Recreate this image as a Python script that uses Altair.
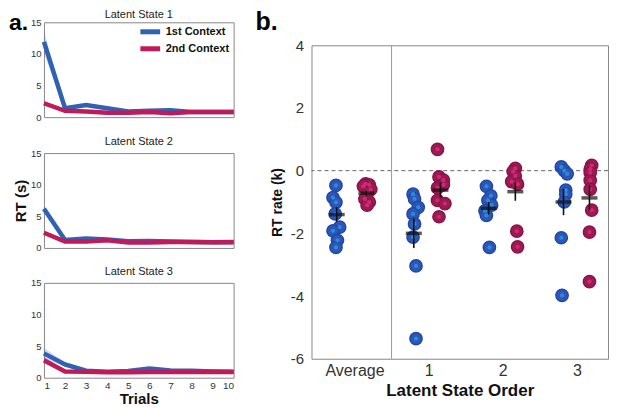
import altair as alt
import pandas as pd

FONT = "Liberation Sans"
BLUE = "#3061B3"
RED = "#BE1B5B"
PW, PH = 190, 95  # panel a plot size

# ---------------- panel a data ----------------
trials = list(range(1, 11))
contexts = ["1st Context", "2nd Context"]
state_titles = ["Latent State 1", "Latent State 2", "Latent State 3"]

ls1_first = [11.9, 1.4, 1.9, 1.4, 0.9, 1.0, 1.1, 0.8, 0.8, 0.8]
ls1_first_err = [1.8, 0.3, 0.25, 0.2, 0.15, 0.15, 0.2, 0.15, 0.1, 0.1]
ls1_second = [2.2, 1.0, 0.9, 0.7, 0.7, 0.8, 0.6, 0.8, 0.8, 0.8]
ls1_second_err = [0.4, 0.15, 0.1, 0.1, 0.1, 0.1, 0.1, 0.1, 0.1, 0.1]

ls2_first = [6.2, 1.25, 1.5, 1.35, 1.05, 1.1, 1.0, 0.95, 0.9, 0.95]
ls2_first_err = [0.5, 0.2, 0.2, 0.15, 0.1, 0.15, 0.1, 0.1, 0.1, 0.1]
ls2_second = [2.4, 1.0, 1.0, 1.2, 0.85, 0.85, 0.95, 0.95, 0.9, 0.9]
ls2_second_err = [0.3, 0.1, 0.1, 0.15, 0.1, 0.1, 0.1, 0.1, 0.1, 0.1]

ls3_first = [3.85, 2.1, 1.1, 0.95, 1.05, 1.45, 1.15, 1.1, 1.0, 0.95]
ls3_first_err = [0.9, 0.35, 0.15, 0.1, 0.1, 0.2, 0.1, 0.1, 0.1, 0.1]
ls3_second = [2.75, 1.0, 0.95, 0.85, 0.85, 0.9, 0.9, 0.9, 0.95, 0.9]
ls3_second_err = [0.5, 0.15, 0.1, 0.1, 0.1, 0.1, 0.1, 0.1, 0.1, 0.1]

# ---------------- panel b data ----------------
group_ticks = [0, 1, 2, 3]  # 0 = "Average"
first_vals = [
    [-0.47, -0.86, -1.01, -1.38, -1.8, -1.92, -2.22, -2.45],
    [-0.75, -0.9, -1.17, -1.38, -1.7, -2.12, -3.04, -5.36],
    [-0.5, -0.8, -0.95, -1.1, -1.28, -1.43, -2.45],
    [0.12, 0.0, -0.1, -0.62, -0.75, -1.0, -2.14, -3.98],
]
first_xoff = [
    [-0.25, -0.29, -0.25, -0.26, -0.2, -0.29, -0.23, -0.25],
    [-0.21, -0.19, -0.14, -0.21, -0.19, -0.21, -0.17, -0.17],
    [-0.22, -0.16, -0.2, -0.15, -0.24, -0.22, -0.18],
    [-0.21, -0.17, -0.13, -0.15, -0.15, -0.17, -0.21, -0.2],
]
second_vals = [
    [-0.42, -0.45, -0.5, -0.6, -0.7, -0.9, -1.0, -1.1],
    [0.68, -0.2, -0.3, -0.45, -0.55, -0.95, -1.05, -1.47],
    [0.07, -0.03, -0.17, -0.35, -0.43, -1.93, -2.43],
    [0.17, 0.05, -0.07, -0.31, -0.6, -1.26, -1.96, -3.54],
]
second_xoff = [
    [0.15, 0.2, 0.12, 0.22, 0.18, 0.14, 0.2, 0.17],
    [0.12, 0.14, 0.2, 0.2, 0.12, 0.12, 0.22, 0.14],
    [0.17, 0.14, 0.17, 0.12, 0.2, 0.19, 0.2],
    [0.2, 0.18, 0.18, 0.18, 0.18, 0.2, 0.17, 0.17],
]
first_mean = [-1.4, -2.0, -1.2, -1.0]
first_mean_xoff = [-0.24, -0.2, -0.19, -0.18]
first_err = [0.23, 0.47, 0.2, 0.42]
second_mean = [-0.72, -0.62, -0.67, -0.87]
second_mean_xoff = [0.16, 0.16, 0.17, 0.17]
second_err = [0.08, 0.24, 0.29, 0.4]


# ---------------- build panel a ----------------
def rt_panel(i, first, ferr, second, serr):
    df = pd.DataFrame({
        "trial": trials * 2,
        "context": [contexts[0]] * 10 + [contexts[1]] * 10,
        "rt": first + second,
        "err": ferr + serr,
    })
    last = i == 2
    xaxis = alt.Axis(values=trials, labelFontSize=10, labelColor="#333", labelFont=FONT,
                     labelPadding=3, ticks=False, domain=False, grid=False,
                     title="Trials", titleFontSize=15, titleFont=FONT, titleFontWeight="bold",
                     titleColor="#111", titlePadding=1) if last else None
    x = alt.X("trial:Q", scale=alt.Scale(domain=[1, 10], nice=False), axis=xaxis)
    yaxis = alt.Axis(values=[0, 5, 10, 15], labelFontSize=9.5, labelColor="#333", labelFont=FONT,
                     labelPadding=3, ticks=False, domain=False, grid=False,
                     title="RT (s)", titleFontSize=15, titleFont=FONT, titleFontWeight="bold",
                     titleColor="#111", titlePadding=2, titleOpacity=1 if i == 1 else 0)
    yscale = alt.Scale(domain=[0, 15], nice=False)
    cscale = alt.Scale(domain=contexts, range=[BLUE, RED])
    legend = alt.Legend(orient="top-right", title=None, symbolType="M-3.3,0H3.3",
                        symbolStrokeWidth=5, symbolSize=36, symbolFillColor="transparent",
                        labelFontSize=11, labelFont=FONT, labelFontWeight="bold",
                        labelColor="#111", offset=4, rowPadding=-4, labelOffset=10,
                        symbolOpacity=1, padding=0) if i == 0 else None
    base = alt.Chart(df).transform_calculate(lo="datum.rt - datum.err", hi="datum.rt + datum.err")
    band = base.mark_area(opacity=0.22).encode(
        x=x, y=alt.Y("lo:Q", scale=yscale, axis=yaxis), y2="hi:Q",
        color=alt.Color("context:N", scale=cscale, legend=legend))
    line = base.mark_line(strokeWidth=4.5).encode(
        x=x, y=alt.Y("rt:Q", scale=yscale, axis=yaxis),
        color=alt.Color("context:N", scale=cscale, legend=legend))
    layers = [band, line]
    props = dict(width=PW, height=PH)
    if i == 0:
        lab = alt.Chart(pd.DataFrame({"t": ["a."]})).mark_text(
            font=FONT, fontSize=23, fontWeight="bold", align="left", baseline="middle", color="#000"
        ).encode(text="t:N", x=alt.value(-35), y=alt.value(1))
        ttl = alt.Chart(pd.DataFrame({"t": [state_titles[0]]})).mark_text(
            font=FONT, fontSize=11, align="center", baseline="middle", color="#222"
        ).encode(text="t:N", x=alt.value(PW / 2), y=alt.value(-7))
        layers += [lab, ttl]
    else:
        props["title"] = alt.TitleParams(state_titles[i], fontSize=11, font=FONT,
                                         fontWeight="normal", color="#222", offset=1)
    return alt.layer(*layers).properties(**props)


left = alt.vconcat(
    rt_panel(0, ls1_first, ls1_first_err, ls1_second, ls1_second_err),
    rt_panel(1, ls2_first, ls2_first_err, ls2_second, ls2_second_err),
    rt_panel(2, ls3_first, ls3_first_err, ls3_second, ls3_second_err),
    spacing=12,
).resolve_scale(color="independent")

# ---------------- build panel b ----------------
rows = []
for ctx, vals, offs in [(contexts[0], first_vals, first_xoff), (contexts[1], second_vals, second_xoff)]:
    for g in range(4):
        for v, o in zip(vals[g], offs[g]):
            rows.append({"context": ctx, "x": group_ticks[g] + o, "k": v})
pts = pd.DataFrame(rows)

mrows = []
for ctx, m, mo, e in [(contexts[0], first_mean, first_mean_xoff, first_err),
                      (contexts[1], second_mean, second_mean_xoff, second_err)]:
    for g in range(4):
        mrows.append({"context": ctx, "x": group_ticks[g] + mo[g], "k": m[g],
                      "lo": m[g] - e[g], "hi": m[g] + e[g]})
means = pd.DataFrame(mrows)

xs_b = alt.Scale(domain=[-0.58, 3.42], nice=False, zero=False)
ys_b = alt.Scale(domain=[-6, 4], nice=False)
xaxis_b = alt.Axis(values=group_ticks, labelExpr="datum.value == 0 ? 'Average' : datum.label",
                   labelFontSize=16, labelFont=FONT, labelColor="#333", labelPadding=4,
                   ticks=False, domain=False, grid=False,
                   title="Latent State Order", titleFontSize=17, titleFont=FONT,
                   titleFontWeight="bold", titleColor="#111", titlePadding=4)
yaxis_b = alt.Axis(values=[-6, -4, -2, 0, 2, 4], labelExpr="'' + datum.value",
                   labelFontSize=15, labelFont=FONT, labelColor="#333",
                   labelPadding=8, ticks=False, domain=False, grid=False,
                   title="RT rate (k)", titleFontSize=14, titleFont=FONT, titleFontWeight="bold",
                   titleColor="#111", titlePadding=6)
X = alt.X("x:Q", scale=xs_b, axis=xaxis_b)
Y = alt.Y("k:Q", scale=ys_b, axis=yaxis_b)

divider = alt.Chart(pd.DataFrame({"x": [0.5]})).mark_rule(color="#9a9a9a", strokeWidth=1).encode(x=X)
zero = alt.Chart(pd.DataFrame({"k": [0]})).mark_rule(
    color="#666", strokeWidth=1, strokeDash=[4, 3]).encode(y=Y)

point_layers = []
for ctx, outer, edge, inner in [(contexts[0], "#2C57B8", "#2248A6", "#2F8AD6"),
                                (contexts[1], "#9D1A53", "#8A1447", "#CC2C74")]:
    sub = alt.Chart(pts).transform_filter(alt.datum.context == ctx)
    point_layers.append(sub.mark_circle(size=150, color=outer, stroke=edge, strokeWidth=1.5,
                                        opacity=1).encode(x=X, y=Y))
    point_layers.append(sub.mark_circle(size=18, color=inner, opacity=1).encode(x=X, y=Y))

errbars = alt.Chart(means).mark_rule(color="#111", strokeWidth=1.6).encode(
    x=X, y=alt.Y("lo:Q", scale=ys_b, axis=yaxis_b), y2="hi:Q")
ticks = alt.Chart(means).mark_tick(orient="horizontal", size=16, thickness=3.5, color="#111").encode(
    x=X, y=Y)

right = alt.layer(zero, divider, *point_layers, errbars, ticks).properties(width=297, height=314)

# header cell holding the panel label "b."
bhead = alt.Chart(pd.DataFrame({"t": ["b."]})).mark_text(
    font=FONT, fontSize=25, fontWeight="bold", align="left", baseline="middle", color="#000"
).encode(text="t:N", x=alt.value(-56), y=alt.value(0)).properties(
    width=297, height=1, view=alt.ViewBackground(stroke=None))

right_col = alt.vconcat(bhead, right, spacing=2)

chart = alt.hconcat(left, right_col, spacing=12, padding=0).configure_view(
    stroke="#888", strokeWidth=1
)

chart.save("out.html", embed_options={"renderer": "svg", "actions": False})
